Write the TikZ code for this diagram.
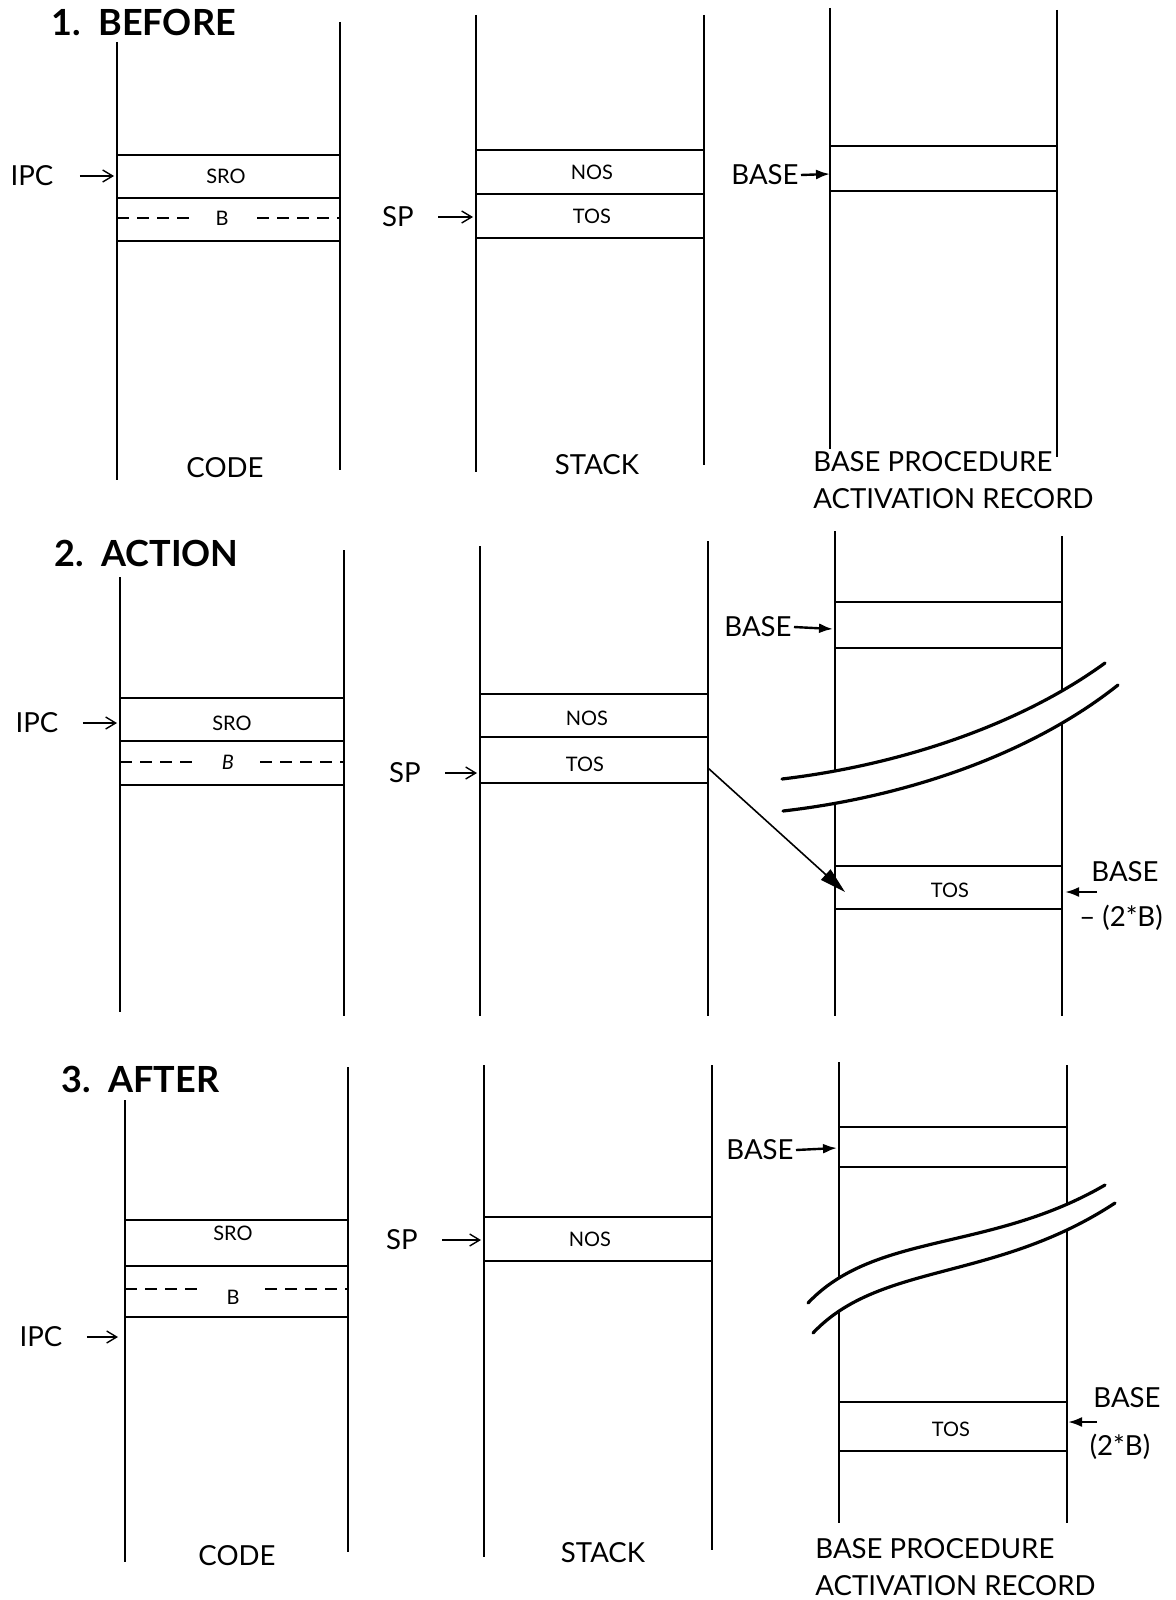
\documentclass[tikz,border=0pt]{standalone}
\usepackage{fontspec}
\setmainfont{Lato}
\usetikzlibrary{arrows.meta, positioning, calc}

\begin{document}
\begin{tikzpicture}[x=0.5pt, y=-0.5pt,
    col/.style={line width=0.6pt},
    cell/.style={line width=0.8pt},
    dsh/.style={line width=0.8pt, dash pattern=on 6pt off 4pt},
    brk/.style={line width=1.6pt, line cap=round},
    lbl/.style={font=\fontsize{13.8}{15}\selectfont, inner sep=1pt},
    small/.style={font=\fontsize{10}{11}\selectfont, inner sep=1.5pt, fill=white},
    gapped/.style={small, inner xsep=11pt},
    ttl/.style={font=\fontsize{18}{20}\selectfont\bfseries, anchor=west, inner sep=0pt},
    rec/.style={font=\fontsize{13.8}{18.5}\selectfont, align=left, anchor=west, inner sep=0pt},
    ptr/.style={-{Straight Barb[length=5pt,width=6pt]}, line width=0.7pt},
    bptr/.style={-{Latex[length=7pt,width=5pt]}, line width=1.2pt}]
    \useasboundingbox (0,0) rectangle (1176,1600);

    % 1. BEFORE
    \node[ttl] (ttl1) at (51,22) {1.\ \ BEFORE};
    \draw[col] (117,42) -- (117,480) (340,22) -- (340,470);
    \foreach \y in {155,198,241} \draw[cell] (117,\y) -- (340,\y);
    \draw[dsh] (117,218) -- (340,218);
    \node[small] (sro1) at (226,176) {SRO};
    \node[gapped] (b1) at (222,218) {B};
    \node[lbl] (ipc1) at (32,176) {IPC};
    \coordinate (ipc1to) at (114,176);
    \draw[ptr] ([xshift=12pt]ipc1.east) -- (ipc1to);

    \draw[col] (476,15) -- (476,472) (704,15) -- (704,465);
    \foreach \y in {150,194,238} \draw[cell] (476,\y) -- (704,\y);
    \node[small] (nos1) at (592,172) {NOS};
    \node[small] (tos1) at (592,216) {TOS};
    \node[lbl] (sp1) at (398,217) {SP};
    \coordinate (sp1to) at (473,217);
    \draw[ptr] ([xshift=11pt]sp1.east) -- (sp1to);

    \draw[col] (830,8) -- (830,449) (1057,10) -- (1057,457);
    \foreach \y in {146,191} \draw[cell] (830,\y) -- (1057,\y);
    \node[lbl] (base1) at (765,175) {BASE};
    \coordinate (base1to) at (830,174);
    \draw[bptr] (base1.east) -- (base1to);

    \node[lbl] (code1) at (225,468) {CODE};
    \node[lbl] (stack1) at (597,465) {STACK};
    \node[rec] (rec1) at (813,480) {BASE PROCEDURE\\ACTIVATION RECORD};

    % 2. ACTION
    \node[ttl] (ttl2) at (54,553) {2.\ \ ACTION};
    \draw[col] (120,577) -- (120,1012) (344,550) -- (344,1016);
    \foreach \y in {698,741,785} \draw[cell] (120,\y) -- (344,\y);
    \draw[dsh] (120,762) -- (344,762);
    \node[small] (sro2) at (232,723) {SRO};
    \node[gapped, font=\fontsize{10}{11}\selectfont\itshape] (b2) at (228,762) {B};
    \node[lbl] (ipc2) at (37,723) {IPC};
    \coordinate (ipc2to) at (117,723);
    \draw[ptr] ([xshift=11pt]ipc2.east) -- (ipc2to);

    \draw[col] (480,546) -- (480,1016) (708,541) -- (708,1016);
    \foreach \y in {694,737,783} \draw[cell] (480,\y) -- (708,\y);
    \node[small] (nos2) at (587,718) {NOS};
    \node[small] (tos2) at (585,764) {TOS};
    \node[lbl] (sp2) at (405,773) {SP};
    \coordinate (sp2to) at (477,773);
    \draw[ptr] ([xshift=11pt]sp2.east) -- (sp2to);

    \draw[col] (835,531) -- (835,1016) (1062,536) -- (1062,1016);
    \foreach \y in {602,648,866,909} \draw[cell] (835,\y) -- (1062,\y);
    \fill[white] (782,779) .. controls (900,765) and (1020,725) .. (1105,663)
        -- (1118,685) .. controls (1030,755) and (905,797) .. (783,811) -- cycle;
    \draw[brk] (782,779) .. controls (900,765) and (1020,725) .. (1105,663);
    \draw[brk] (783,811) .. controls (905,797) and (1030,755) .. (1118,685);
    \node[lbl] (base2) at (758,627) {BASE};
    \coordinate (base2to) at (833,629);
    \draw[bptr] (base2.east) -- (base2to);
    \node[small] (tos2b) at (950,890) {TOS};
    \node[lbl] (bot2) at (1125,872) {BASE};
    \node[lbl] (off2) at (1121,918) {– (2*B)};
    \coordinate (bot2to) at (1065,892);
    \draw[bptr] (1097,892) -- (bot2to);
    \coordinate (tos2from) at (708,768);
    \coordinate (tos2to) at (845,892);
    \draw[line width=0.8pt, -{Triangle[length=13pt,width=7pt]}] (tos2from) -- (tos2to);

    % 3. AFTER
    \node[ttl] (ttl3) at (61,1079) {3.\ \ AFTER};
    \draw[col] (125,1100) -- (125,1562) (348,1067) -- (348,1552);
    \foreach \y in {1220,1266,1317} \draw[cell] (125,\y) -- (348,\y);
    \draw[dsh] (125,1289) -- (348,1289);
    \node[small] (sro3) at (233,1233) {SRO};
    \node[gapped] (b3) at (233,1297) {B};
    \node[lbl] (ipc3) at (41,1337) {IPC};
    \coordinate (ipc3to) at (118,1337);
    \draw[ptr] ([xshift=11pt]ipc3.east) -- (ipc3to);

    \draw[col] (484,1065) -- (484,1557) (712,1065) -- (712,1550);
    \foreach \y in {1217,1261} \draw[cell] (484,\y) -- (712,\y);
    \node[small] (nos3) at (590,1239) {NOS};
    \node[lbl] (sp3) at (402,1240) {SP};
    \coordinate (sp3to) at (481,1240);
    \draw[ptr] ([xshift=11pt]sp3.east) -- (sp3to);

    \draw[col] (839,1062) -- (839,1523) (1067,1065) -- (1067,1523);
    \foreach \y in {1127,1167,1402,1451} \draw[cell] (839,\y) -- (1067,\y);
    \fill[white] (808,1303) .. controls (875,1232) and (990,1252) .. (1105,1185)
        -- (1115,1203) .. controls (995,1282) and (880,1262) .. (813,1333) -- cycle;
    \draw[brk] (808,1303) .. controls (875,1232) and (990,1252) .. (1105,1185);
    \draw[brk] (813,1333) .. controls (880,1262) and (995,1282) .. (1115,1203);
    \node[lbl] (base3) at (760,1150) {BASE};
    \coordinate (base3to) at (837,1148);
    \draw[bptr] (base3.east) -- (base3to);
    \node[small] (tos3) at (951,1429) {TOS};
    \node[lbl] (bot3) at (1127,1398) {BASE};
    \node[lbl] (off3) at (1120,1447) {(2*B)};
    \coordinate (bot3to) at (1068,1422);
    \draw[bptr] (1097,1422) -- (bot3to);

    \node[lbl] (code3) at (237,1556) {CODE};
    \node[lbl] (stack3) at (603,1553) {STACK};
    \node[rec] (rec3) at (815,1567) {BASE PROCEDURE\\ACTIVATION RECORD};
\end{tikzpicture}
\end{document}
